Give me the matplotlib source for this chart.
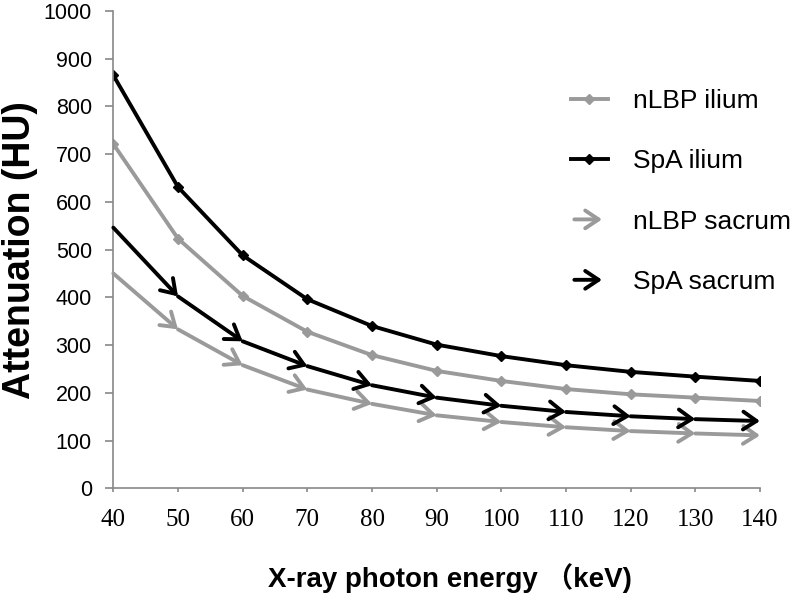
import matplotlib
matplotlib.use('Agg')
import matplotlib.pyplot as plt
from matplotlib.lines import Line2D
from matplotlib.patches import FancyArrowPatch
from matplotlib.legend_handler import HandlerBase

# data
energy = [40, 50, 60, 70, 80, 90, 100, 110, 120, 130, 140]
nlbp_ilium = [721, 523, 403, 328, 279, 246, 225, 208, 197, 190, 183]
spa_ilium = [865, 631, 488, 396, 340, 301, 277, 258, 244, 234, 225]
nlbp_sacrum = [450, 333, 258, 207, 177, 153, 139, 128, 120, 115, 111]
spa_sacrum = [546, 402, 308, 256, 216, 190, 173, 160, 151, 145, 141]

x_ticks = [40, 50, 60, 70, 80, 90, 100, 110, 120, 130, 140]
y_ticks = [0, 100, 200, 300, 400, 500, 600, 700, 800, 900, 1000]

labels = ['nLBP ilium', 'SpA ilium', 'nLBP sacrum', 'SpA sacrum']
gray = '#9a9a9a'
black = '#000000'

ARROW = '->, head_length=0.48, head_width=0.32'


class ArrowHandler(HandlerBase):
    def create_artists(self, legend, orig_handle, xdescent, ydescent,
                       width, height, fontsize, trans):
        y = height / 2 - ydescent
        x0 = -xdescent
        p = FancyArrowPatch((x0 + width * 0.1, y), (x0 + width * 0.85, y),
                            arrowstyle=ARROW, mutation_scale=20,
                            color=orig_handle.get_color(), lw=2.8,
                            shrinkA=0, shrinkB=0, transform=trans)
        return [p]


fig = plt.figure(figsize=(7.97, 6.0), dpi=100)
ax = fig.add_axes([0.1422, 0.186, 0.8114, 0.796])

ax.plot(energy, nlbp_ilium, color=gray, lw=2.8, marker='D', markersize=5)
ax.plot(energy, spa_ilium, color=black, lw=2.8, marker='D', markersize=5)

for ys, c in [(nlbp_sacrum, gray), (spa_sacrum, black)]:
    for i in range(len(energy) - 1):
        ax.annotate('', xy=(energy[i + 1], ys[i + 1]), xytext=(energy[i], ys[i]),
                    arrowprops=dict(arrowstyle=ARROW, mutation_scale=20,
                                    color=c, lw=2.8, shrinkA=0, shrinkB=0))

ax.set_xlim(40, 140)
ax.set_ylim(0, 1000)
ax.set_xticks(x_ticks, labels=[str(v) for v in x_ticks],
              fontsize=18, fontfamily='Liberation Serif')
ax.set_yticks(y_ticks, labels=[str(v) for v in y_ticks],
              fontsize=15.5, fontfamily='Liberation Sans')

for s in ['top', 'right']:
    ax.spines[s].set_visible(False)
for s in ['left', 'bottom']:
    ax.spines[s].set_color('#888888')
    ax.spines[s].set_linewidth(1.2)
ax.tick_params(axis='both', direction='out', color='#888888', width=1.2)
ax.tick_params(axis='y', length=6, pad=9.5)
ax.tick_params(axis='x', length=3, pad=12)

ax.set_xlabel('X-ray photon energy （keV)', fontsize=20, fontweight='bold',
              family=['Liberation Sans', 'Noto Sans CJK SC'], va='center')
ax.set_ylabel('Attenuation (HU)', fontsize=27, fontweight='bold',
              family='Liberation Sans', va='center')
ax.xaxis.set_label_coords(0.52, -0.188)
ax.yaxis.set_label_coords(-0.145, 0.5)

handles = [Line2D([], [], color=gray, lw=2.8, marker='D', markersize=5),
           Line2D([], [], color=black, lw=2.8, marker='D', markersize=5),
           Line2D([], [], color=gray),
           Line2D([], [], color=black)]
leg = fig.legend(handles, labels, loc='upper left', bbox_to_anchor=(0.716, 0.852),
                 frameon=False, borderpad=0, borderaxespad=0, labelspacing=1.38,
                 handlelength=1.4, handletextpad=0.95,
                 prop={'family': 'Liberation Sans', 'size': 19},
                 handler_map={handles[2]: ArrowHandler(), handles[3]: ArrowHandler()})

fig.savefig('out.png', dpi=100)
